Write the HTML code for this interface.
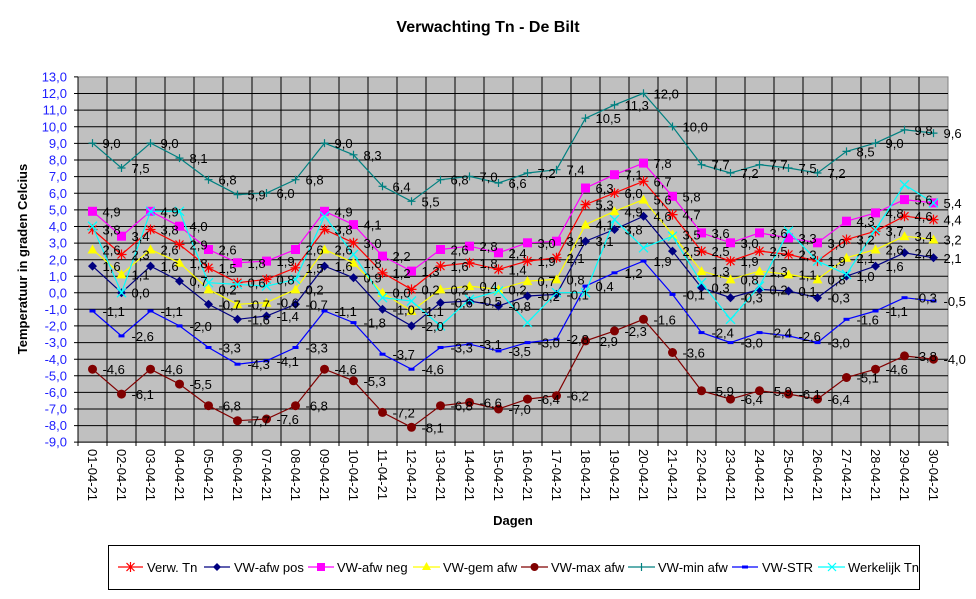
<!DOCTYPE html>
<html><head><meta charset="utf-8"><style>
html,body{margin:0;padding:0;background:#fff;}
svg{display:block;font-family:"Liberation Sans",Arial,sans-serif;}
</style></head><body>
<svg width="976" height="599" viewBox="0 0 976 599" xmlns="http://www.w3.org/2000/svg">
<defs>
<marker id="mStar" markerUnits="userSpaceOnUse" markerWidth="12" markerHeight="12" refX="6" refY="6" overflow="visible"><path d="M2,2L10,10M10,2L2,10M6,1V11M1,6H11" stroke="#ff0000" stroke-width="1.2" fill="none"/></marker>
<marker id="mDia" markerUnits="userSpaceOnUse" markerWidth="10" markerHeight="10" refX="5" refY="5" overflow="visible"><path d="M5,0.5L9.5,5L5,9.5L0.5,5Z" fill="#000080"/></marker>
<marker id="mSq" markerUnits="userSpaceOnUse" markerWidth="10" markerHeight="10" refX="5" refY="5" overflow="visible"><rect x="0.5" y="0.5" width="9" height="9" fill="#ff00ff"/></marker>
<marker id="mTri" markerUnits="userSpaceOnUse" markerWidth="10" markerHeight="10" refX="5" refY="5" overflow="visible"><path d="M5,0L10,9H0Z" fill="#ffff00"/></marker>
<marker id="mCir" markerUnits="userSpaceOnUse" markerWidth="10" markerHeight="10" refX="5" refY="5" overflow="visible"><circle cx="5" cy="5" r="4.5" fill="#800000"/></marker>
<marker id="mPlus" markerUnits="userSpaceOnUse" markerWidth="10" markerHeight="10" refX="5" refY="5" overflow="visible"><path d="M5,1V9M1,5H9" stroke="#008080" stroke-width="1.2"/></marker>
<marker id="mDash" markerUnits="userSpaceOnUse" markerWidth="8" markerHeight="4" refX="4" refY="2" overflow="visible"><rect x="1" y="0.5" width="6" height="3" fill="#0000ff"/></marker>
<marker id="mX" markerUnits="userSpaceOnUse" markerWidth="12" markerHeight="12" refX="6" refY="6" overflow="visible"><path d="M1.5,1.5L10.5,10.5M10.5,1.5L1.5,10.5" stroke="#00ffff" stroke-width="1.3"/></marker>
</defs>

<text x="488" y="32" text-anchor="middle" font-size="16" font-weight="bold">Verwachting Tn - De Bilt</text>

<rect x="78" y="76.9" width="870" height="365.2" fill="#c0c0c0" stroke="#808080"/>
<g stroke="#000" stroke-width="1" fill="none">
<path d="M78,93.5H948M78,110.1H948M78,126.8H948M78,143.4H948M78,160H948M78,176.6H948M78,193.2H948M78,209.9H948M78,226.5H948M78,243.1H948M78,259.7H948M78,276.3H948M78,292.7H948M78,309.3H948M78,325.9H948M78,342.6H948M78,359.2H948M78,375.8H948M78,392.4H948M78,409H948M78,425.6H948"/>
<path d="M107,76.9V442M136,76.9V442M165,76.9V442M194,76.9V442M223,76.9V442M252,76.9V442M281,76.9V442M310,76.9V442M339,76.9V442M368,76.9V442M397,76.9V442M426,76.9V442M455,76.9V442M484,76.9V442M513,76.9V442M542,76.9V442M571,76.9V442M600,76.9V442M629,76.9V442M658,76.9V442M687,76.9V442M716,76.9V442M745,76.9V442M774,76.9V442M803,76.9V442M832,76.9V442M861,76.9V442M890,76.9V442M919,76.9V442"/>
<path d="M78,76.9V442.1H948"/>
<path d="M74,76.9H78M74,93.5H78M74,110.1H78M74,126.8H78M74,143.4H78M74,160H78M74,176.6H78M74,193.2H78M74,209.9H78M74,226.5H78M74,243.1H78M74,259.7H78M74,276.3H78M74,292.7H78M74,309.3H78M74,325.9H78M74,342.6H78M74,359.2H78M74,375.8H78M74,392.4H78M74,409H78M74,425.6H78M74,442.1H78"/>
<path d="M78,442V446M107,442V446M136,442V446M165,442V446M194,442V446M223,442V446M252,442V446M281,442V446M310,442V446M339,442V446M368,442V446M397,442V446M426,442V446M455,442V446M484,442V446M513,442V446M542,442V446M571,442V446M600,442V446M629,442V446M658,442V446M687,442V446M716,442V446M745,442V446M774,442V446M803,442V446M832,442V446M861,442V446M890,442V446M919,442V446M948,442V446"/>
</g>

<g font-size="13" fill="#2020ff" text-anchor="end">
<text x="67" y="81.5">13,0</text><text x="67" y="98.1">12,0</text><text x="67" y="114.7">11,0</text><text x="67" y="131.4">10,0</text><text x="67" y="148">9,0</text><text x="67" y="164.6">8,0</text><text x="67" y="181.2">7,0</text><text x="67" y="197.8">6,0</text><text x="67" y="214.5">5,0</text><text x="67" y="231.1">4,0</text><text x="67" y="247.7">3,0</text><text x="67" y="264.3">2,0</text><text x="67" y="280.9">1,0</text><text x="67" y="297.3">0,0</text><text x="67" y="313.9">-1,0</text><text x="67" y="330.5">-2,0</text><text x="67" y="347.2">-3,0</text><text x="67" y="363.8">-4,0</text><text x="67" y="380.4">-5,0</text><text x="67" y="397">-6,0</text><text x="67" y="413.6">-7,0</text><text x="67" y="430.2">-8,0</text><text x="67" y="446.7">-9,0</text>
</g>

<text transform="translate(27,259) rotate(-90)" text-anchor="middle" font-size="13" font-weight="bold">Temperatuur in graden Celcius</text>
<text x="513" y="525" text-anchor="middle" font-size="13" font-weight="bold">Dagen</text>

<g font-size="13">
<text transform="translate(88,449) rotate(90)">01-04-21</text><text transform="translate(117,449) rotate(90)">02-04-21</text><text transform="translate(146,449) rotate(90)">03-04-21</text><text transform="translate(175,449) rotate(90)">04-04-21</text><text transform="translate(204,449) rotate(90)">05-04-21</text><text transform="translate(233,449) rotate(90)">06-04-21</text><text transform="translate(262,449) rotate(90)">07-04-21</text><text transform="translate(291,449) rotate(90)">08-04-21</text><text transform="translate(320,449) rotate(90)">09-04-21</text><text transform="translate(349,449) rotate(90)">10-04-21</text><text transform="translate(378,449) rotate(90)">11-04-21</text><text transform="translate(407,449) rotate(90)">12-04-21</text><text transform="translate(436,449) rotate(90)">13-04-21</text><text transform="translate(465,449) rotate(90)">14-04-21</text><text transform="translate(494,449) rotate(90)">15-04-21</text><text transform="translate(523,449) rotate(90)">16-04-21</text><text transform="translate(552,449) rotate(90)">17-04-21</text><text transform="translate(581,449) rotate(90)">18-04-21</text><text transform="translate(610,449) rotate(90)">19-04-21</text><text transform="translate(639,449) rotate(90)">20-04-21</text><text transform="translate(668,449) rotate(90)">21-04-21</text><text transform="translate(697,449) rotate(90)">22-04-21</text><text transform="translate(726,449) rotate(90)">23-04-21</text><text transform="translate(755,449) rotate(90)">24-04-21</text><text transform="translate(784,449) rotate(90)">25-04-21</text><text transform="translate(813,449) rotate(90)">26-04-21</text><text transform="translate(842,449) rotate(90)">27-04-21</text><text transform="translate(871,449) rotate(90)">28-04-21</text><text transform="translate(900,449) rotate(90)">29-04-21</text><text transform="translate(929,449) rotate(90)">30-04-21</text>
</g>

<g fill="none" stroke-width="1.2">
<polyline stroke="#008080" marker-start="url(#mPlus)" marker-mid="url(#mPlus)" marker-end="url(#mPlus)" points="92.5,143.1 121.5,168.0 150.5,143.1 179.5,158.1 208.5,179.7 237.5,194.6 266.5,193.0 295.5,179.7 324.5,143.1 353.5,154.8 382.5,186.3 411.5,201.3 440.5,179.7 469.5,176.4 498.5,183.0 527.5,173.0 556.5,169.7 585.5,118.2 614.5,104.9 643.5,93.3 672.5,126.5 701.5,164.7 730.5,173.0 759.5,164.7 788.5,168.0 817.5,173.0 846.5,151.4 875.5,143.1 904.5,129.8 933.5,133.1"/>
<polyline stroke="#0000ff" marker-start="url(#mDash)" marker-mid="url(#mDash)" marker-end="url(#mDash)" points="92.5,311.0 121.5,335.9 150.5,311.0 179.5,325.9 208.5,347.5 237.5,364.2 266.5,360.8 295.5,347.5 324.5,311.0 353.5,322.6 382.5,354.2 411.5,369.2 440.5,347.5 469.5,344.2 498.5,350.9 527.5,342.6 556.5,339.2 585.5,286.1 614.5,272.8 643.5,261.1 672.5,294.4 701.5,332.6 730.5,342.6 759.5,332.6 788.5,335.9 817.5,342.6 846.5,319.3 875.5,311.0 904.5,297.7 933.5,301.0"/>
<polyline stroke="#800000" marker-start="url(#mCir)" marker-mid="url(#mCir)" marker-end="url(#mCir)" points="92.5,369.2 121.5,394.1 150.5,369.2 179.5,384.1 208.5,405.7 237.5,420.7 266.5,419.0 295.5,405.7 324.5,369.2 353.5,380.8 382.5,412.4 411.5,427.3 440.5,405.7 469.5,402.4 498.5,409.0 527.5,399.1 556.5,395.7 585.5,340.9 614.5,330.9 643.5,319.3 672.5,352.5 701.5,390.8 730.5,399.1 759.5,390.8 788.5,394.1 817.5,399.1 846.5,377.5 875.5,369.2 904.5,355.9 933.5,359.2"/>
<polyline stroke="#000080" marker-start="url(#mDia)" marker-mid="url(#mDia)" marker-end="url(#mDia)" points="92.5,266.1 121.5,292.7 150.5,266.1 179.5,281.1 208.5,304.3 237.5,319.3 266.5,316.0 295.5,304.3 324.5,266.1 353.5,277.7 382.5,309.3 411.5,325.9 440.5,302.7 469.5,301.0 498.5,306.0 527.5,296.0 556.5,294.4 585.5,241.2 614.5,229.5 643.5,216.2 672.5,251.1 701.5,287.7 730.5,297.7 759.5,289.4 788.5,291.0 817.5,297.7 846.5,276.1 875.5,266.1 904.5,252.8 933.5,257.8"/>
<polyline stroke="#ffff00" marker-start="url(#mTri)" marker-mid="url(#mTri)" marker-end="url(#mTri)" points="92.5,249.5 121.5,274.4 150.5,249.5 179.5,262.8 208.5,289.4 237.5,304.3 266.5,302.7 295.5,289.4 324.5,249.5 353.5,262.8 382.5,292.7 411.5,311.0 440.5,289.4 469.5,286.1 498.5,289.4 527.5,281.1 556.5,279.4 585.5,224.6 614.5,211.3 643.5,199.6 672.5,234.5 701.5,271.1 730.5,279.4 759.5,271.1 788.5,274.4 817.5,279.4 846.5,257.8 875.5,249.5 904.5,236.2 933.5,239.5"/>
<polyline stroke="#ff00ff" marker-start="url(#mSq)" marker-mid="url(#mSq)" marker-end="url(#mSq)" points="92.5,211.3 121.5,236.2 150.5,211.3 179.5,226.2 208.5,249.5 237.5,262.8 266.5,261.1 295.5,249.5 324.5,211.3 353.5,224.6 382.5,256.1 411.5,271.1 440.5,249.5 469.5,246.2 498.5,252.8 527.5,242.8 556.5,241.2 585.5,188.0 614.5,174.7 643.5,163.1 672.5,196.3 701.5,232.9 730.5,242.8 759.5,232.9 788.5,237.9 817.5,242.8 846.5,221.2 875.5,212.9 904.5,199.6 933.5,202.9"/>
<polyline stroke="#ff0000" marker-start="url(#mStar)" marker-mid="url(#mStar)" marker-end="url(#mStar)" points="92.5,229.5 121.5,254.5 150.5,229.5 179.5,244.5 208.5,267.8 237.5,282.7 266.5,279.4 295.5,267.8 324.5,229.5 353.5,242.8 382.5,272.8 411.5,289.4 440.5,266.1 469.5,262.8 498.5,269.4 527.5,261.1 556.5,257.8 585.5,204.6 614.5,193.0 643.5,181.3 672.5,214.6 701.5,251.1 730.5,261.1 759.5,251.1 788.5,254.5 817.5,261.1 846.5,239.5 875.5,231.2 904.5,216.2 933.5,219.6"/>
<polyline stroke="#00ffff" marker-start="url(#mX)" marker-mid="url(#mX)" marker-end="url(#mX)" points="92.5,226.2 121.5,292.7 150.5,211.3 179.5,211.3 208.5,282.7 237.5,284.4 266.5,286.1 295.5,279.4 324.5,216.2 353.5,254.5 382.5,297.7 411.5,301.0 440.5,325.9 469.5,299.3 498.5,291.0 527.5,322.6 556.5,292.7 585.5,292.7 614.5,219.6 643.5,247.8 672.5,236.2 701.5,282.7 730.5,319.3 759.5,286.1 788.5,231.2 817.5,261.1 846.5,274.4 875.5,229.5 904.5,184.7 933.5,202.9"/>
</g>

<g font-size="13" fill="#000">
<text x="102.5" y="148.1">9,0</text><text x="131.5" y="173">7,5</text><text x="160.5" y="148.1">9,0</text><text x="189.5" y="163.1">8,1</text><text x="218.5" y="184.7">6,8</text><text x="247.5" y="199.6">5,9</text><text x="276.5" y="198">6,0</text><text x="305.5" y="184.7">6,8</text><text x="334.5" y="148.1">9,0</text><text x="363.5" y="159.8">8,3</text><text x="392.5" y="191.3">6,4</text><text x="421.5" y="206.3">5,5</text><text x="450.5" y="184.7">6,8</text><text x="479.5" y="181.4">7,0</text><text x="508.5" y="188">6,6</text><text x="537.5" y="178">7,2</text><text x="566.5" y="174.7">7,4</text><text x="595.5" y="123.2">10,5</text><text x="624.5" y="109.9">11,3</text><text x="653.5" y="98.3">12,0</text><text x="682.5" y="131.5">10,0</text><text x="711.5" y="169.7">7,7</text><text x="740.5" y="178">7,2</text><text x="769.5" y="169.7">7,7</text><text x="798.5" y="173">7,5</text><text x="827.5" y="178">7,2</text><text x="856.5" y="156.4">8,5</text><text x="885.5" y="148.1">9,0</text><text x="914.5" y="134.8">9,8</text><text x="943.5" y="138.1">9,6</text>
<text x="102.5" y="216.3">4,9</text><text x="131.5" y="241.2">3,4</text><text x="160.5" y="216.3">4,9</text><text x="189.5" y="231.2">4,0</text><text x="218.5" y="254.5">2,6</text><text x="247.5" y="267.8">1,8</text><text x="276.5" y="266.1">1,9</text><text x="305.5" y="254.5">2,6</text><text x="334.5" y="216.3">4,9</text><text x="363.5" y="229.6">4,1</text><text x="392.5" y="261.1">2,2</text><text x="421.5" y="276.1">1,3</text><text x="450.5" y="254.5">2,6</text><text x="479.5" y="251.2">2,8</text><text x="508.5" y="257.8">2,4</text><text x="537.5" y="247.8">3,0</text><text x="566.5" y="246.2">3,1</text><text x="595.5" y="193">6,3</text><text x="624.5" y="179.7">7,1</text><text x="653.5" y="168.1">7,8</text><text x="682.5" y="201.3">5,8</text><text x="711.5" y="237.9">3,6</text><text x="740.5" y="247.8">3,0</text><text x="769.5" y="237.9">3,6</text><text x="798.5" y="242.9">3,3</text><text x="827.5" y="247.8">3,0</text><text x="856.5" y="226.2">4,3</text><text x="885.5" y="217.9">4,8</text><text x="914.5" y="204.6">5,6</text><text x="943.5" y="207.9">5,4</text>
<text x="102.5" y="234.5">3,8</text><text x="131.5" y="259.5">2,3</text><text x="160.5" y="234.5">3,8</text><text x="189.5" y="249.5">2,9</text><text x="218.5" y="272.8">1,5</text><text x="247.5" y="287.7">0,6</text><text x="276.5" y="284.4">0,8</text><text x="305.5" y="272.8">1,5</text><text x="334.5" y="234.5">3,8</text><text x="363.5" y="247.8">3,0</text><text x="392.5" y="277.8">1,2</text><text x="421.5" y="294.4">0,2</text><text x="450.5" y="271.1">1,6</text><text x="479.5" y="267.8">1,8</text><text x="508.5" y="274.4">1,4</text><text x="537.5" y="266.1">1,9</text><text x="566.5" y="262.8">2,1</text><text x="595.5" y="209.6">5,3</text><text x="624.5" y="198">6,0</text><text x="653.5" y="186.3">6,7</text><text x="682.5" y="219.6">4,7</text><text x="711.5" y="256.1">2,5</text><text x="740.5" y="266.1">1,9</text><text x="769.5" y="256.1">2,5</text><text x="798.5" y="259.5">2,3</text><text x="827.5" y="266.1">1,9</text><text x="856.5" y="244.5">3,2</text><text x="885.5" y="236.2">3,7</text><text x="914.5" y="221.2">4,6</text><text x="943.5" y="224.6">4,4</text>
<text x="102.5" y="254.5">2,6</text><text x="131.5" y="279.4">1,1</text><text x="160.5" y="254.5">2,6</text><text x="189.5" y="267.8">1,8</text><text x="218.5" y="294.4">0,2</text><text x="247.5" y="309.3">-0,7</text><text x="276.5" y="307.7">-0,6</text><text x="305.5" y="294.4">0,2</text><text x="334.5" y="254.5">2,6</text><text x="363.5" y="267.8">1,8</text><text x="392.5" y="297.7">0,0</text><text x="421.5" y="316">-1,1</text><text x="450.5" y="294.4">0,2</text><text x="479.5" y="291.1">0,4</text><text x="508.5" y="294.4">0,2</text><text x="537.5" y="286.1">0,7</text><text x="566.5" y="284.4">0,8</text><text x="595.5" y="229.6">4,1</text><text x="624.5" y="216.3">4,9</text><text x="653.5" y="204.6">5,6</text><text x="682.5" y="239.5">3,5</text><text x="711.5" y="276.1">1,3</text><text x="740.5" y="284.4">0,8</text><text x="769.5" y="276.1">1,3</text><text x="798.5" y="279.4">1,1</text><text x="827.5" y="284.4">0,8</text><text x="856.5" y="262.8">2,1</text><text x="885.5" y="254.5">2,6</text><text x="914.5" y="241.2">3,4</text><text x="943.5" y="244.5">3,2</text>
<text x="102.5" y="271.1">1,6</text><text x="131.5" y="297.7">0,0</text><text x="160.5" y="271.1">1,6</text><text x="189.5" y="286.1">0,7</text><text x="218.5" y="309.3">-0,7</text><text x="247.5" y="324.3">-1,6</text><text x="276.5" y="321">-1,4</text><text x="305.5" y="309.3">-0,7</text><text x="334.5" y="271.1">1,6</text><text x="363.5" y="282.7">0,9</text><text x="392.5" y="314.3">-1,0</text><text x="421.5" y="330.9">-2,0</text><text x="450.5" y="307.7">-0,6</text><text x="479.5" y="306">-0,5</text><text x="508.5" y="311">-0,8</text><text x="537.5" y="301">-0,2</text><text x="566.5" y="299.4">-0,1</text><text x="595.5" y="246.2">3,1</text><text x="624.5" y="234.5">3,8</text><text x="653.5" y="221.2">4,6</text><text x="682.5" y="256.1">2,5</text><text x="711.5" y="292.7">0,3</text><text x="740.5" y="302.7">-0,3</text><text x="769.5" y="294.4">0,2</text><text x="798.5" y="296">0,1</text><text x="827.5" y="302.7">-0,3</text><text x="856.5" y="281.1">1,0</text><text x="885.5" y="271.1">1,6</text><text x="914.5" y="257.8">2,4</text><text x="943.5" y="262.8">2,1</text>
<text x="102.5" y="316">-1,1</text><text x="131.5" y="340.9">-2,6</text><text x="160.5" y="316">-1,1</text><text x="189.5" y="330.9">-2,0</text><text x="218.5" y="352.5">-3,3</text><text x="247.5" y="369.2">-4,3</text><text x="276.5" y="365.8">-4,1</text><text x="305.5" y="352.5">-3,3</text><text x="334.5" y="316">-1,1</text><text x="363.5" y="327.6">-1,8</text><text x="392.5" y="359.2">-3,7</text><text x="421.5" y="374.2">-4,6</text><text x="450.5" y="352.5">-3,3</text><text x="479.5" y="349.2">-3,1</text><text x="508.5" y="355.9">-3,5</text><text x="537.5" y="347.6">-3,0</text><text x="566.5" y="344.2">-2,8</text><text x="595.5" y="291.1">0,4</text><text x="624.5" y="277.8">1,2</text><text x="653.5" y="266.1">1,9</text><text x="682.5" y="299.4">-0,1</text><text x="711.5" y="337.6">-2,4</text><text x="740.5" y="347.6">-3,0</text><text x="769.5" y="337.6">-2,4</text><text x="798.5" y="340.9">-2,6</text><text x="827.5" y="347.6">-3,0</text><text x="856.5" y="324.3">-1,6</text><text x="885.5" y="316">-1,1</text><text x="914.5" y="302.7">-0,3</text><text x="943.5" y="306">-0,5</text>
<text x="102.5" y="374.2">-4,6</text><text x="131.5" y="399.1">-6,1</text><text x="160.5" y="374.2">-4,6</text><text x="189.5" y="389.1">-5,5</text><text x="218.5" y="410.7">-6,8</text><text x="247.5" y="425.7">-7,7</text><text x="276.5" y="424">-7,6</text><text x="305.5" y="410.7">-6,8</text><text x="334.5" y="374.2">-4,6</text><text x="363.5" y="385.8">-5,3</text><text x="392.5" y="417.4">-7,2</text><text x="421.5" y="432.3">-8,1</text><text x="450.5" y="410.7">-6,8</text><text x="479.5" y="407.4">-6,6</text><text x="508.5" y="414">-7,0</text><text x="537.5" y="404.1">-6,4</text><text x="566.5" y="400.7">-6,2</text><text x="595.5" y="345.9">-2,9</text><text x="624.5" y="335.9">-2,3</text><text x="653.5" y="324.3">-1,6</text><text x="682.5" y="357.5">-3,6</text><text x="711.5" y="395.8">-5,9</text><text x="740.5" y="404.1">-6,4</text><text x="769.5" y="395.8">-5,9</text><text x="798.5" y="399.1">-6,1</text><text x="827.5" y="404.1">-6,4</text><text x="856.5" y="382.5">-5,1</text><text x="885.5" y="374.2">-4,6</text><text x="914.5" y="360.9">-3,8</text><text x="943.5" y="364.2">-4,0</text>
</g>

<rect x="108.5" y="545.5" width="811" height="44" fill="#fff" stroke="#000"/>
<g stroke-width="1.2" font-size="13" fill="none">
<line x1="118" y1="567" x2="143" y2="567" stroke="#ff0000"/><path d="M126.5,563L134.5,571M134.5,563L126.5,571M130.5,562V572" stroke="#ff0000"/>
<line x1="204" y1="567" x2="230" y2="567" stroke="#000080"/><path d="M217,563L221,567L217,571L213,567Z" fill="#000080"/>
<line x1="308" y1="567" x2="334" y2="567" stroke="#ff00ff"/><rect x="317" y="563" width="8" height="8" fill="#ff00ff"/>
<line x1="413" y1="567" x2="440" y2="567" stroke="#ffff00"/><path d="M426.5,562L431,570H422Z" fill="#ffff00"/>
<line x1="521" y1="567" x2="548" y2="567" stroke="#800000"/><circle cx="534.5" cy="567" r="4" fill="#800000"/>
<line x1="628" y1="567" x2="655" y2="567" stroke="#008080"/><path d="M641.5,563V571" stroke="#008080"/>
<line x1="732" y1="567" x2="758" y2="567" stroke="#0000ff"/><rect x="742" y="565.5" width="6" height="3" fill="#0000ff"/>
<line x1="818" y1="567" x2="845" y2="567" stroke="#00ffff"/><path d="M828,563L836,571M836,563L828,571" stroke="#00ffff"/>
</g>
<g font-size="13" fill="#000">
<text x="147" y="572">Verw. Tn</text><text x="234" y="572">VW-afw pos</text><text x="337" y="572">VW-afw neg</text><text x="443" y="572">VW-gem afw</text><text x="551" y="572">VW-max afw</text><text x="658" y="572">VW-min afw</text><text x="762" y="572">VW-STR</text><text x="848" y="572">Werkelijk Tn</text>
</g>
</svg>
</body></html>
